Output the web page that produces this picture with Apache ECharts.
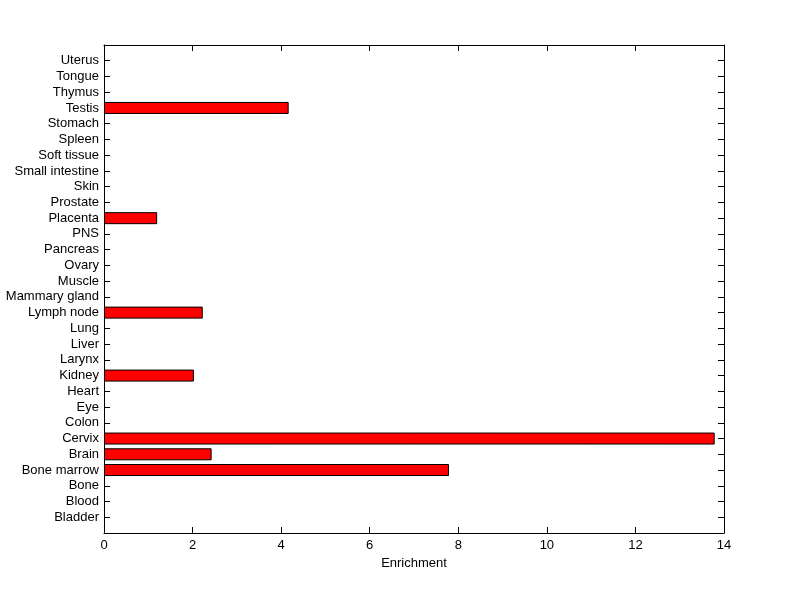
<!DOCTYPE html>
<html>
<head>
<meta charset="utf-8">
<script src="https://cdn.jsdelivr.net/npm/echarts@6/dist/echarts.min.js"></script>
<style>
  html, body { margin: 0; padding: 0; background: #fff; }
  #chart { width: 800px; height: 599px; }
</style>
</head>
<body>
<div id="chart"></div>
<script>
// tissues listed bottom to top
const tissues = ["Bladder", "Blood", "Bone", "Bone marrow", "Brain", "Cervix", "Colon", "Eye", "Heart",
  "Kidney", "Larynx", "Liver", "Lung", "Lymph node", "Mammary gland", "Muscle", "Ovary", "Pancreas",
  "PNS", "Placenta", "Prostate", "Skin", "Small intestine", "Soft tissue", "Spleen", "Stomach",
  "Testis", "Thymus", "Tongue", "Uterus"];
const enrichment = [0, 0, 0, 7.79, 2.43, 13.79, 0, 0, 0,
  2.03, 0, 0, 0, 2.23, 0, 0, 0, 0,
  0, 1.2, 0, 0, 0, 0, 0, 0,
  4.17, 0, 0, 0];
const xTicks = [0, 2, 4, 6, 8, 10, 12, 14];

// half a slot of empty space at both ends, like the axis limits of the original
const slots = [""].concat(tissues, [""]);
const barData = ["-"].concat(enrichment.map(v => (v > 0 ? v : "-")), ["-"]);

const font = "Liberation Sans, Arial, Helvetica, sans-serif";
const chart = echarts.init(document.getElementById("chart"));

const yBase = {
  type: "category",
  data: slots,
  boundaryGap: false,
  axisLine: { show: true, onZero: false, lineStyle: { color: "#000", width: 1 } },
  axisTick: {
    show: true, inside: true, length: 6,
    lineStyle: { color: "#000" },
    interval: (i) => i > 0 && i < slots.length - 1
  },
  splitLine: { show: false }
};
const xBase = {
  type: "value",
  min: 0,
  max: 14,
  interval: 2,
  axisLine: { show: true, onZero: false, lineStyle: { color: "#000", width: 1 } },
  axisTick: { show: true, inside: true, length: 6, lineStyle: { color: "#000" } },
  splitLine: { show: false }
};

chart.setOption({
  animation: false,
  grid: { left: 104, right: 76, top: 45, bottom: 66, containLabel: false },
  xAxis: [
    Object.assign({}, xBase, {
      position: "bottom",
      name: "Enrichment",
      nameLocation: "middle",
      nameGap: 24,
      nameTextStyle: { color: "#000", fontFamily: font, fontSize: 13 },
      axisLabel: { color: "#000", fontFamily: font, fontSize: 13, margin: 6,
        formatter: (v) => (xTicks.includes(v) ? String(v) : "") }
    }),
    Object.assign({}, xBase, { position: "top", axisLabel: { show: false } })
  ],
  yAxis: [
    Object.assign({}, yBase, {
      position: "left",
      axisLabel: { color: "#000", fontFamily: font, fontSize: 13, margin: 5, interval: 0 }
    }),
    Object.assign({}, yBase, { position: "right", axisLabel: { show: false } })
  ],
  series: [{
    type: "bar",
    data: barData,
    xAxisIndex: 0,
    yAxisIndex: 0,
    barWidth: 12,
    itemStyle: { color: "#ff0000", borderColor: "#000", borderWidth: 1 }
  }]
});
</script>
</body>
</html>
